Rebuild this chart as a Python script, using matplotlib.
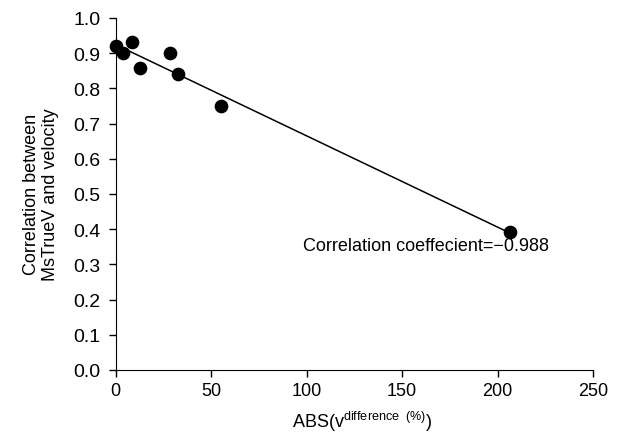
import numpy as np
import matplotlib
matplotlib.use('Agg')
import matplotlib.pyplot as plt

plt.rcParams['font.family'] = ['Liberation Sans', 'DejaVu Sans']
plt.rcParams['mathtext.fontset'] = 'custom'
plt.rcParams['mathtext.rm'] = 'Liberation Sans'
plt.rcParams['mathtext.it'] = 'Liberation Sans'

# ABS(v difference %) vs correlation between MsTrueV and velocity
abs_diff = [0.0, 4.0, 8.5, 13.0, 28.4, 32.4, 55.1, 206.6]
corr = [0.919, 0.900, 0.931, 0.859, 0.900, 0.840, 0.751, 0.391]
xticks = [0, 50, 100, 150, 200, 250]
yticks = [0.0, 0.1, 0.2, 0.3, 0.4, 0.5, 0.6, 0.7, 0.8, 0.9, 1.0]

fig = plt.figure(figsize=(6.39, 4.39), dpi=100)
ax = fig.add_axes([0.181, 0.155, 0.747, 0.802])

x = np.array(abs_diff)
y = np.array(corr)
slope, icpt = np.polyfit(x, y, 1)
xl = np.array([x.min(), x.max()])
ax.plot(xl, slope * xl + icpt, color='black', lw=1.1, zorder=2)
ax.scatter(x, y, s=78, color='black', zorder=3, clip_on=False)

ax.set_xlim(0, 250)
ax.set_ylim(0, 1.0)
ax.set_xticks(xticks)
ax.set_yticks(yticks)
ax.set_yticklabels(['%.1f' % v for v in yticks])
ax.spines['top'].set_visible(False)
ax.spines['right'].set_visible(False)
ax.tick_params(direction='out', length=5, width=1)
ax.tick_params(axis='x', labelsize=13, pad=4)
ax.tick_params(axis='y', labelsize=14, pad=6)

ax.set_xlabel(r'ABS(v$^{\mathrm{difference\ \ (\%)}}$)', fontsize=13, labelpad=7)
ax.xaxis.label.set_x(0.517)
ax.set_ylabel('Correlation between\nMsTrueV and velocity', fontsize=13,
              labelpad=10)

ax.text(98, 0.354, 'Correlation coeffecient=\u22120.988', fontsize=13,
        ha='left', va='center')

fig.savefig('out.png', dpi=100)
